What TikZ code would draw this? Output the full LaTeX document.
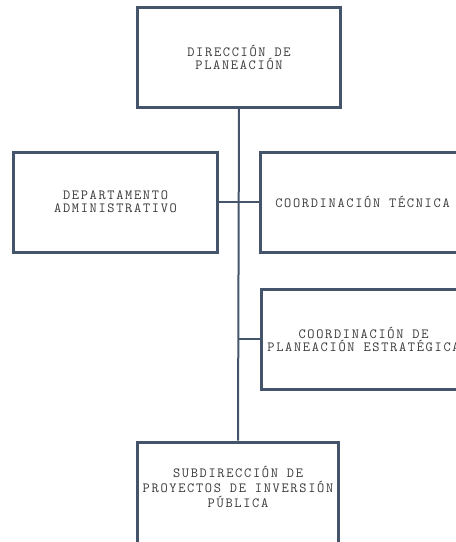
\documentclass[tikz,border=0pt]{standalone}
\usepackage{fontspec}
\newfontfamily\courfont{Latin Modern Mono}[LetterSpace=12]
\definecolor{frame}{HTML}{44546A}
\definecolor{txt}{HTML}{3A3A3A}
\newcommand{\boxfont}[1]{\courfont\fontsize{14}{#1}\selectfont}
\begin{document}
\begin{tikzpicture}[x=1pt,y=1pt,
  orgbox/.style={draw=frame,line width=3pt,fill=white,minimum width=204pt,minimum height=100pt,inner sep=0pt,
    text=txt,font=\boxfont{13},align=center},
  conn/.style={draw=frame,line width=2pt}]
\useasboundingbox (0,0) rectangle (456,-542);
\clip (0,0) rectangle (456,-542);
\node[orgbox,minimum width=203pt,minimum height=100pt] (dir) at (239,-57) {DIRECCIÓN DE\\PLANEACIÓN};
\node[orgbox] (dep) at (115.5,-202) {DEPARTAMENTO\\ADMINISTRATIVO};
\node[orgbox] (tec) at (362.5,-202) {COORDINACIÓN TÉCNICA};
\node[orgbox] (cpe) at (363.5,-339) {COORDINACIÓN DE\\PLANEACIÓN ESTRATÉGICA};
\node[orgbox,minimum width=201pt,minimum height=106pt] (sub) at (238,-495) {};
\node[text=txt,font=\boxfont{15},align=center] (subt) at (238,-487) {SUBDIRECCIÓN DE\\PROYECTOS DE INVERSIÓN\\PÚBLICA};
\coordinate (j2) at (238,-339);
\draw[conn] (dir.south) -- (sub.north);
\draw[conn] (dep.east) -- (tec.west);
\draw[conn] (cpe.west) -- (j2);
\end{tikzpicture}
\end{document}
